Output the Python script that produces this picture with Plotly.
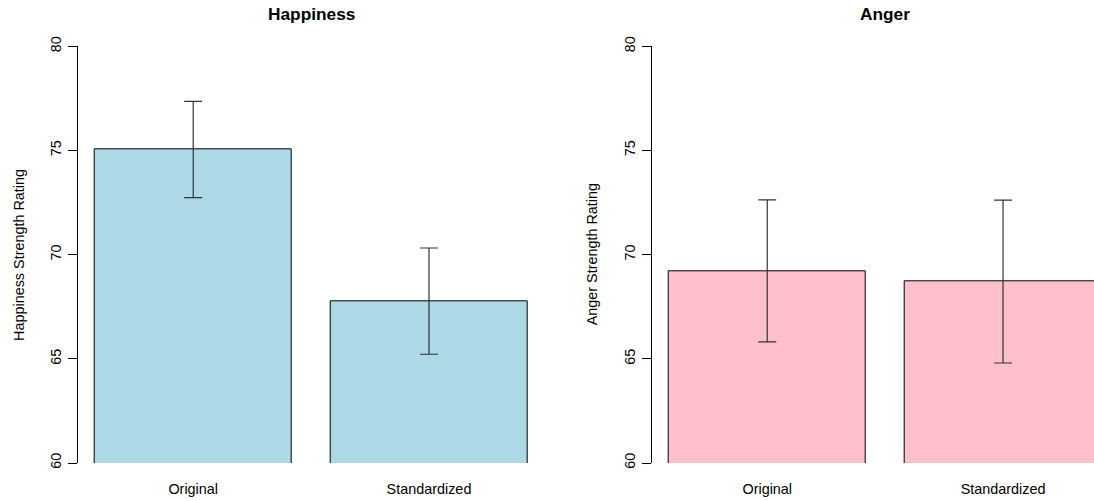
import plotly.graph_objects as go

# ---- data ----
categories = ["Original", "Standardized"]
happiness_means = [75.05, 67.77]
happiness_errors = [2.31, 2.55]
anger_means = [69.22, 68.71]
anger_errors = [3.41, 3.91]
y_ticks = [60, 65, 70, 75, 80]
panel_titles = ["Happiness", "Anger"]
axis_titles = ["Happiness Strength Rating", "Anger Strength Rating"]

# bar positions like R barplot (width 1, space 0.2)
bar_x = [0.7, 1.9]

W, H = 1094, 501
FONT = "Liberation Sans, Arial, sans-serif"
FS = 14.4

fig = go.Figure()

fig.add_trace(go.Bar(
    x=bar_x, y=happiness_means, width=1,
    marker=dict(color="#ADD8E6", line=dict(color="black", width=1)),
    error_y=dict(type="data", array=happiness_errors, visible=True,
                 color="#333333", thickness=1.2, width=9),
    xaxis="x", yaxis="y", showlegend=False,
))
fig.add_trace(go.Bar(
    x=bar_x, y=anger_means, width=1,
    marker=dict(color="#FFC0CB", line=dict(color="black", width=1)),
    error_y=dict(type="data", array=anger_errors, visible=True,
                 color="#333333", thickness=1.2, width=9),
    xaxis="x2", yaxis="y2", showlegend=False,
))

y_bottom_px, y_top_px = 463.0, 46.3
ydom = [1 - y_bottom_px / H, 1 - y_top_px / H]

left_px = (77.7, 544.5)
right_px = (651.7, 1094.0)
px_per_unit = 196.5

xaxis_common = dict(
    showgrid=False, zeroline=False, showline=False, ticks="",
    tickvals=bar_x, ticktext=categories,
    tickfont=dict(family=FONT, size=FS, color="black"),
    ticklabelstandoff=16, fixedrange=True,
)
yaxis_common = dict(
    range=[60, 80], tickvals=y_ticks, ticktext=[str(t) for t in y_ticks],
    showgrid=False, zeroline=False, showline=True, linecolor="black", linewidth=1,
    ticks="outside", ticklen=9, tickcolor="black", tickwidth=1,
    tickangle=-90, tickfont=dict(family=FONT, size=FS, color="black"),
    ticklabelstandoff=1, domain=ydom, fixedrange=True,
)

fig.update_layout(
    width=W, height=H,
    margin=dict(l=0, r=0, t=0, b=0, autoexpand=False),
    paper_bgcolor="white", plot_bgcolor="white",
    bargap=0,
    xaxis=dict(domain=[left_px[0] / W, left_px[1] / W], range=[0.112, 2.488],
               anchor="y", **xaxis_common),
    yaxis=dict(anchor="x", **yaxis_common),
    xaxis2=dict(domain=[right_px[0] / W, right_px[1] / W],
                range=[0.112, 0.112 + (right_px[1] - right_px[0]) / px_per_unit],
                anchor="y2", **xaxis_common),
    yaxis2=dict(anchor="x2", **yaxis_common),
)

# panel titles (centred over each full R plot region)
title_centres = [(left_px[0] + left_px[1]) / 2,
                 right_px[0] + 2.376 * px_per_unit / 2]
for title, cx in zip(panel_titles, title_centres):
    fig.add_annotation(
        text=f"<b>{title}</b>", x=cx / W, y=1 - 14.5 / H,
        xref="paper", yref="paper", xanchor="center", yanchor="middle",
        showarrow=False, font=dict(family=FONT, size=17.3, color="black"),
    )

# y-axis titles
for title, px in zip(axis_titles, [18.3, 591.7]):
    fig.add_annotation(
        text=title, x=px / W, y=1 - ((y_bottom_px + y_top_px) / 2) / H,
        xref="paper", yref="paper", xanchor="center", yanchor="middle",
        textangle=-90, showarrow=False,
        font=dict(family=FONT, size=FS, color="black"),
    )

fig.write_html(
    "out.html",
    config={"displayModeBar": False},
    post_script="document.body.style.margin='0';document.body.style.overflow='hidden';",
)
